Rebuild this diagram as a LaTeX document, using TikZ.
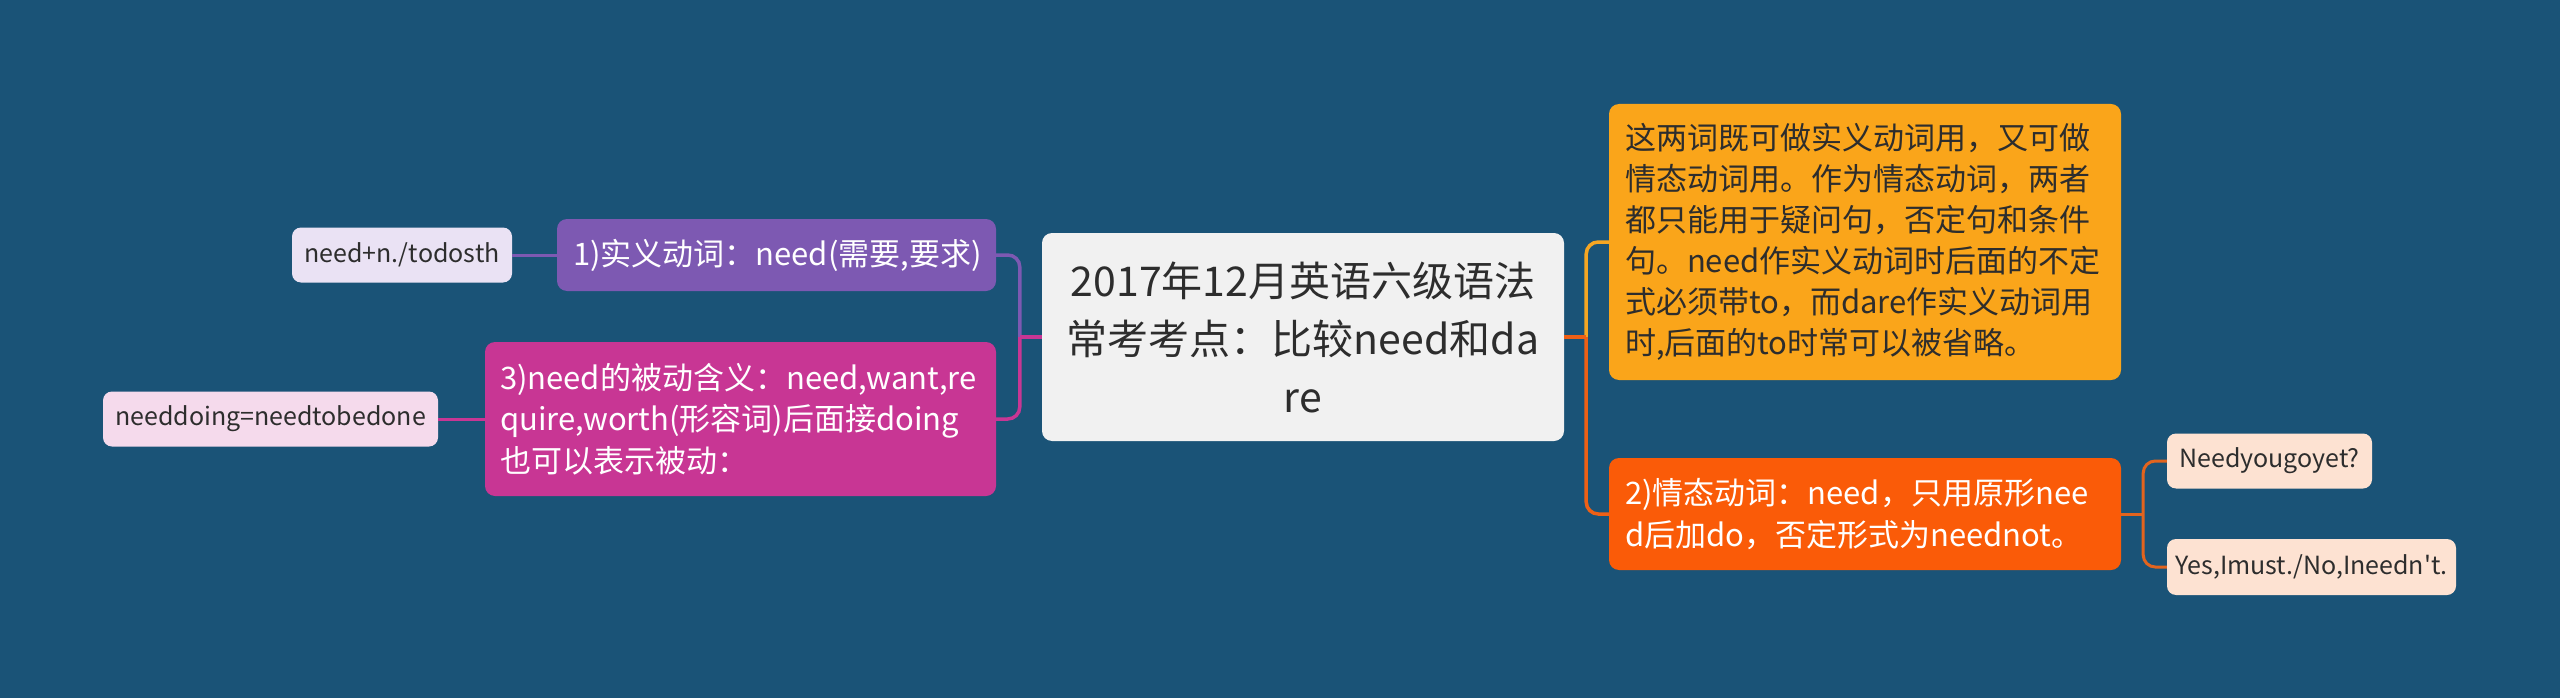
\documentclass[tikz,border=0pt]{standalone}
\usepackage{fontspec}
\setmainfont{Noto Sans CJK SC}
\font\aposfont="Noto Sans CJK SC" at 25pt
\definecolor{bgc}{RGB}{26,83,119}
\definecolor{cCenter}{RGB}{241,241,241}
\definecolor{cDark}{RGB}{45,45,45}
\definecolor{cYellow}{RGB}{250,165,26}
\definecolor{cRed}{RGB}{250,91,8}
\definecolor{cPurple}{RGB}{125,89,178}
\definecolor{cMagenta}{RGB}{200,54,148}
\definecolor{lPurple}{RGB}{234,226,244}
\definecolor{lPink}{RGB}{245,218,236}
\definecolor{lPeach}{RGB}{253,226,210}
\definecolor{kYellow}{RGB}{245,166,35}
\definecolor{kRed}{RGB}{238,96,22}
\definecolor{kChild}{RGB}{226,100,30}
\tikzset{
  mainbox/.style={rounded corners=10pt, inner ysep=0pt, anchor=center},
  midtext/.style={font=\fontsize{31}{41}\selectfont, align=left},
  leafbox/.style={rounded corners=9pt, inner sep=0pt, anchor=center, text=cDark,
    font=\fontsize{25}{30}\selectfont},
  conn/.style={line width=3.5pt},
  cconn/.style={line width=3pt},
}
\begin{document}
\begin{tikzpicture}[x=1pt,y=-1pt]
\fill[bgc] (0,0) rectangle (2560,698);
\useasboundingbox (0,0) rectangle (2560,698);

% center
\node[mainbox, fill=cCenter, text=cDark, minimum width=522pt, minimum height=208pt,
  text width=490pt, inner xsep=16pt, align=center,
  font=\fontsize{41}{58}\selectfont] (c) at (1303,337)
  {2017年12月英语六级语法\\常考考点：比较need和da\\re};

% right main children
\node[mainbox, midtext, fill=cYellow, text=cDark, minimum height=276pt,
  text width=480pt, inner xsep=16pt] (t1) at (1865,242)
  {这两词既可做实义动词用，又可做\\情态动词用。作为情态动词，两者\\都只能用于疑问句，否定句和条件\\句。need作实义动词时后面的不定\\式必须带to，而dare作实义动词用\\时,后面的to时常可以被省略。};
\node[mainbox, midtext, fill=cRed, text=white, minimum height=112pt,
  text width=480pt, inner xsep=16pt, font=\fontsize{31}{42}\selectfont] (t2) at (1865,514)
  {2)情态动词：need，只用原形nee\\d后加do，否定形式为neednot。};

% left main children
\node[mainbox, midtext, fill=cPurple, text=white, minimum height=72pt,
  text width=407pt, inner xsep=16pt] (p1) at (776.5,255)
  {1)实义动词：need(需要,要求)};
\node[mainbox, midtext, fill=cMagenta, text=white, minimum height=154pt,
  text width=481pt, inner xsep=15pt, font=\fontsize{31}{41.5}\selectfont] (m3) at (740.5,419)
  {3)need的被动含义：need,want,re\\quire,worth(形容词)后面接doing\\也可以表示被动：};

% leaves
\node[leafbox, fill=lPurple, minimum width=220pt, minimum height=55pt] (lf1) at (402,255) {need+n./todosth};
\node[leafbox, fill=lPink, minimum width=335pt, minimum height=55pt] (lf2) at (270.5,419) {needdoing=needtobedone};
\node[leafbox, fill=lPeach, minimum width=205pt, minimum height=55pt] (r1) at (2269.5,461) {Needyougoyet?};
\node[leafbox, fill=lPeach, minimum width=289pt, minimum height=56pt] (r2) at (2311.5,567) {Yes,Imust./No,Ineedn{\aposfont '}t.};

% junctions
\coordinate (jr) at ([xshift=22pt]c.east);
\coordinate (jl) at ([xshift=-22pt]c.west);
\coordinate (jc) at ([xshift=22pt]t2.east);

% right connectors
\draw[conn, kYellow, rounded corners=12pt] (jr) |- (t1.west);
\draw[conn, kRed] (c.east) -- (jr);
\draw[conn, kRed, rounded corners=12pt] (jr) |- (t2.west);

% left connectors
\draw[conn, cPurple, rounded corners=12pt] (jl) |- (p1.east);
\draw[conn, cMagenta] (c.west) -- (jl);
\draw[conn, cMagenta, rounded corners=12pt] (jl) |- (m3.east);

% child connectors
\draw[cconn, kChild] (t2.east) -- (jc);
\draw[cconn, kChild, rounded corners=12pt] (jc) |- (r1.west);
\draw[cconn, kChild, rounded corners=12pt] (jc) |- (r2.west);
\draw[cconn, cPurple] (p1.west) -- (lf1.east);
\draw[cconn, cMagenta] (m3.west) -- (lf2.east);
\end{tikzpicture}
\end{document}
